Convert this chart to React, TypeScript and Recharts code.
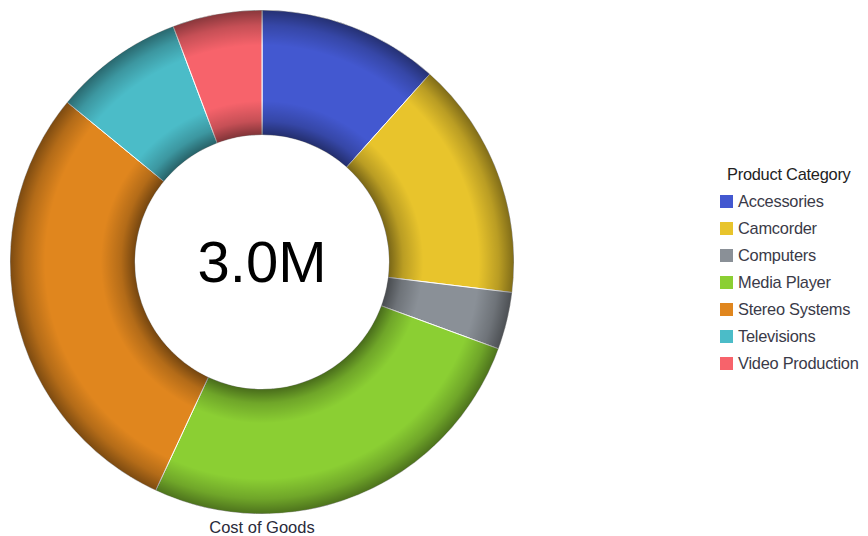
import React from 'react';
import { PieChart, Pie, Cell, Legend } from 'recharts';

const categories = ['Accessories', 'Camcorder', 'Computers', 'Media Player', 'Stereo Systems', 'Televisions', 'Video Production'];
const costOfGoods = [348000, 460000, 110000, 790000, 870000, 250000, 172000];
const colors = ['#4358D0', '#E8C42C', '#8A9097', '#8BCF33', '#E0861E', '#4BBCC8', '#F7636B'];
const legendTitle = 'Product Category';
const totalLabel = '3.0M';
const measureLabel = 'Cost of Goods';

const data = categories.map((name, i) => ({ name, value: costOfGoods[i] }));
const ring = [{ name: 'shade', value: 1 }];

const FONT = 'Arial, "Liberation Sans", sans-serif';

const LegendContent = (props: any) => {
  const payload = props.payload || [];
  return (
    <div style={{ fontFamily: FONT, fontSize: 16.4, letterSpacing: '-0.25px' }}>
      <div style={{ color: '#222', marginLeft: 7, height: 27, lineHeight: '27px', whiteSpace: 'nowrap' }}>{legendTitle}</div>
      {payload.map((p: any) => (
        <div key={p.value} style={{ display: 'flex', alignItems: 'center', height: 27, whiteSpace: 'nowrap' }}>
          <span style={{ width: 13, height: 13, background: p.color, display: 'inline-block', marginRight: 5, flex: 'none' }} />
          <span style={{ color: '#3a3a48' }}>{p.value}</span>
        </div>
      ))}
    </div>
  );
};

export default function App() {
  return (
    <div style={{ position: 'relative', width: 852, height: 528 }}>
      <PieChart width={852} height={528} margin={{ top: 0, right: 0, bottom: 0, left: 0 }}>
        <defs>
          <radialGradient id="shade" cx="0.5" cy="0.5" r="0.5" gradientUnits="objectBoundingBox">
            <stop offset="0.5" stopColor="#000" stopOpacity={0.5} />
            <stop offset="0.56" stopColor="#000" stopOpacity={0.2} />
            <stop offset="0.64" stopColor="#000" stopOpacity={0} />
            <stop offset="0.86" stopColor="#000" stopOpacity={0} />
            <stop offset="0.94" stopColor="#000" stopOpacity={0.2} />
            <stop offset="1" stopColor="#000" stopOpacity={0.45} />
          </radialGradient>
        </defs>
        <Pie
          data={data}
          dataKey="value"
          nameKey="name"
          cx={254}
          cy={254}
          innerRadius={127}
          outerRadius={252}
          startAngle={90}
          endAngle={-270}
          stroke="#ffffff"
          strokeWidth={1}
          isAnimationActive={false}
        >
          {data.map((d, i) => (
            <Cell key={d.name} fill={colors[i]} />
          ))}
        </Pie>
        <Pie
          data={ring}
          dataKey="value"
          cx={254}
          cy={254}
          innerRadius={127}
          outerRadius={252}
          startAngle={90}
          endAngle={-270}
          stroke="none"
          fill="url(#shade)"
          isAnimationActive={false}
          legendType="none"
        />
        <Legend
          layout="vertical"
          align="right"
          verticalAlign="top"
          wrapperStyle={{ left: 712, top: 153, width: 140 }}
          content={() => (
            <LegendContent
              payload={categories.map((c, i) => ({ value: c, color: colors[i] }))}
            />
          )}
        />
      </PieChart>
      <div
        style={{
          position: 'absolute',
          left: 104,
          width: 300,
          top: 220,
          height: 68,
          lineHeight: '68px',
          textAlign: 'center',
          fontFamily: FONT,
          fontSize: 58,
          color: '#000',
        }}
      >
        {totalLabel}
      </div>
      <div
        style={{
          position: 'absolute',
          left: 0,
          width: 508,
          top: 511,
          height: 17,
          lineHeight: '17px',
          textAlign: 'center',
          fontFamily: FONT,
          fontSize: 16.5,
          color: '#2a2a3a',
        }}
      >
        {measureLabel}
      </div>
    </div>
  );
}
